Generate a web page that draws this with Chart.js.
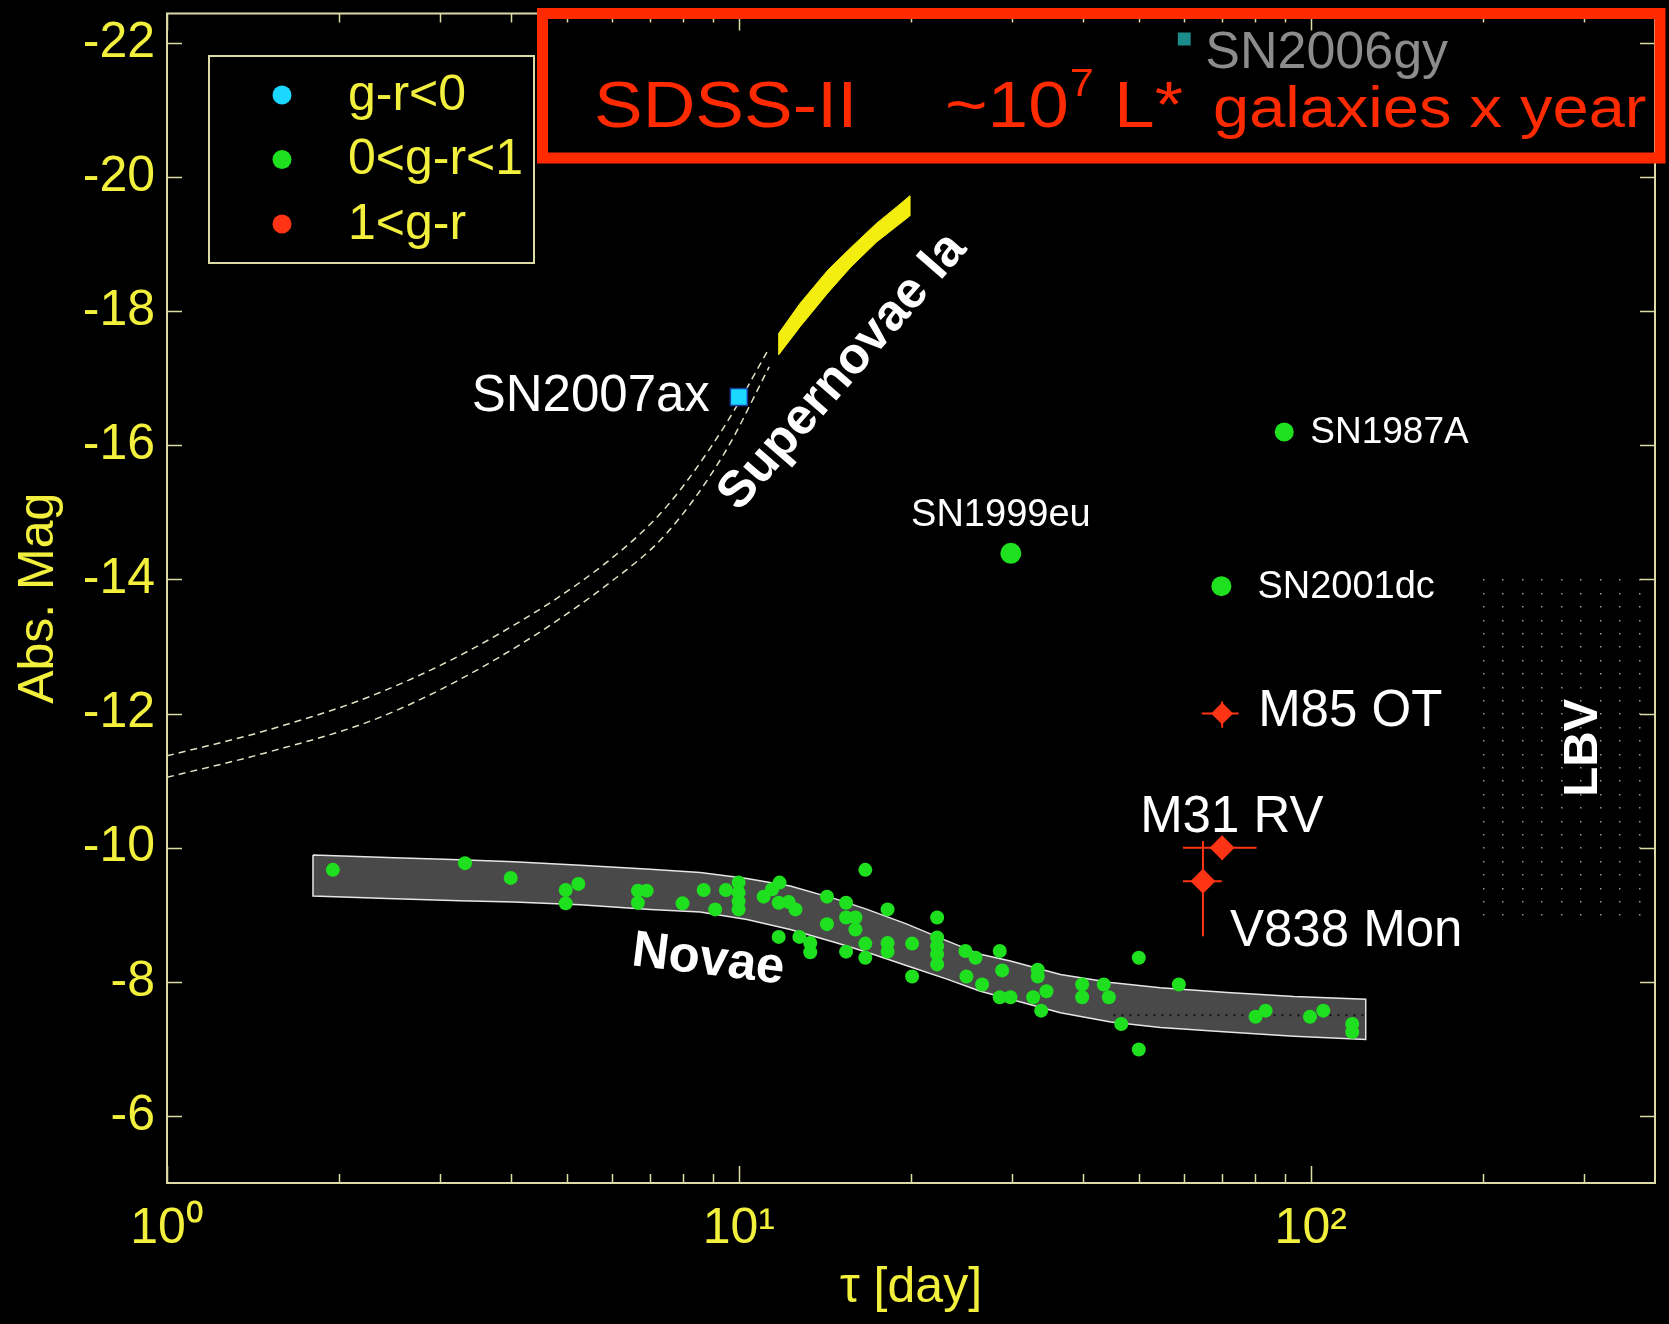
<!DOCTYPE html>
<html>
<head>
<meta charset="utf-8">
<title>Abs. Mag vs decline time</title>
<script src="https://cdn.jsdelivr.net/npm/chart.js@4.4.1/dist/chart.umd.min.js"></script>
<style>
  html, body { margin: 0; padding: 0; background: #000; }
  #wrap { width: 1669px; height: 1324px; }
</style>
</head>
<body>
<div id="wrap"><canvas id="chart" width="1669" height="1324"></canvas></div>
<script>
// Axis ticks
const xTicks = [1, 2, 3, 4, 5, 6, 7, 8, 9, 10, 20, 30, 40, 50, 60, 70, 80, 90, 100, 200, 300];
const xTickLabels = { 1: '10⁰', 10: '10¹', 100: '10²' };
const yTicks = [-22, -20, -18, -16, -14, -12, -10, -8, -6];

const legendLabels = ['g-r<0', '0<g-r<1', '1<g-r'];

// Novae (0<g-r<1)
const novaeTau = [1.95, 3.32, 3.99, 4.98, 5.24, 4.98, 6.66, 6.90, 6.66, 7.97, 8.68, 9.09, 9.49, 9.99, 9.99, 9.99, 9.99,
  11.05, 11.43, 11.78, 11.74, 12.22, 12.56, 14.26, 14.26, 15.40, 15.40, 15.99, 15.99, 16.64, 11.74, 12.76, 13.33, 13.33,
  15.40, 16.64, 16.64, 18.20, 18.20, 18.20, 20.09, 20.09, 22.22, 22.22, 22.22, 22.22, 22.22, 24.90, 25.93, 28.59, 25.00,
  26.63, 28.87, 28.59, 29.85, 32.71, 33.32, 33.32, 34.51, 33.78, 39.84, 39.84, 43.46, 44.36, 46.63, 50.05, 50.05, 58.81,
  80.09, 83.40, 99.7, 105.2, 118.2, 118.2];
const novaeMag = [-9.67, -9.77, -9.55, -9.37, -9.46, -9.17, -9.36, -9.36, -9.18, -9.17, -9.37, -9.08, -9.37, -9.48, -9.33, -9.20, -9.08,
  -9.27, -9.38, -9.48, -9.18, -9.19, -9.08, -9.27, -8.86, -9.18, -8.96, -8.96, -8.78, -9.67, -8.67, -8.67, -8.58, -8.44,
  -8.45, -8.57, -8.36, -9.08, -8.58, -8.45, -8.57, -8.08, -8.96, -8.66, -8.53, -8.41, -8.26, -8.46, -8.36, -8.46, -8.08,
  -7.96, -8.17, -7.77, -7.77, -7.77, -8.18, -8.08, -7.86, -7.57, -7.96, -7.77, -7.96, -7.77, -7.37, -8.36, -6.99, -7.96,
  -7.48, -7.57, -7.48, -7.57, -7.37, -7.25];

// Named supernovae (0<g-r<1)
const snNames = ['SN1987A', 'SN1999eu', 'SN2001dc'];
const snTau = [89.9, 29.9, 69.8];
const snMag = [-16.20, -14.39, -13.90];

// g-r<0
const blueNames = ['SN2007ax', 'SN2006gy'];
const blueTau = [10.0, 60.1];
const blueMag = [-16.72, -22.06];

// 1<g-r, with error bars
const redNames = ['M85 OT', 'M31 RV', 'V838 Mon'];
const redTau = [70.0, 70.0, 64.8];
const redMag = [-12.0, -10.0, -9.5];
const redTauLo = [64.5, 59.8, 59.8];
const redTauHi = [74.8, 80.4, 69.9];
const redMagLo = [-12.18, -10.15, -10.10];
const redMagHi = [-11.79, -9.82, -8.68];

// Novae band edges
const bandTau = [1.80, 2.50, 3.25, 4.04, 5.28, 7.00, 8.56, 10.33, 12.30, 14.85, 16.76, 19.68, 23.12, 26.45, 29.85, 36.5, 44.7, 54.6, 71.5, 93.5, 124.8];
const bandTop = [-9.89, -9.85, -9.82, -9.79, -9.74, -9.68, -9.63, -9.54, -9.43, -9.23, -9.08, -8.86, -8.61, -8.41, -8.31, -8.11, -7.99, -7.91, -7.84, -7.78, -7.74];
const bandBottom = [-9.28, -9.24, -9.21, -9.19, -9.15, -9.08, -9.04, -8.93, -8.78, -8.58, -8.44, -8.24, -8.04, -7.86, -7.74, -7.54, -7.40, -7.32, -7.25, -7.19, -7.14];

// SN Ia band
const snIaTau = [11.74, 12.8, 14.3, 15.7, 17.4, 18.9, 19.9];
const snIaTop = [-17.67, -18.12, -18.61, -18.95, -19.31, -19.56, -19.72];
const snIaBottom = [-17.35, -17.77, -18.27, -18.66, -19.03, -19.27, -19.42];

// dashed extension of the SN Ia band
const extTau = [1.0, 1.48, 2.35, 3.74, 5.94, 7.48, 9.43, 11.3];
const extUpper = [-11.37, -11.74, -12.31, -13.15, -14.29, -15.09, -16.28, -17.45];
const extLower = [-11.05, -11.41, -11.94, -12.80, -13.95, -14.69, -15.88, -17.17];

// dotted line inside the novae band
const dottedTau = [45.2, 124.8];
const dottedMag = [-7.5, -7.5];

// LBV region
const lbvTau = [200, 376];
const lbvMag = [-14, -9];

// ---- styles ----
const FONT = "'Liberation Sans', Arial, Helvetica, sans-serif";
const YELLOW = '#f2f03c';
const FRAME = '#dcdaa6';
const CYAN = '#1ad8ff';
const GREEN = '#1ee01e';
const RED = '#ff3414';

Chart.defaults.font.family = FONT;

const pts = (xs, ys) => xs.map((t, i) => ({ x: t, y: ys[i] }));

function closedPath(xs, upper, lower) {
    const p = pts(xs, upper);
    for (let i = xs.length - 1; i >= 0; i--) p.push({ x: xs[i], y: lower[i] });
    p.push(p[0]);
    return p;
}

// label offsets (pixels) relative to each marker
const labelStyle = {
    'SN2007ax': { dx: -29, dy: 0, align: 'right', size: 51, color: '#ffffff' },
    'SN2006gy': { dx: 21, dy: 15, align: 'left', size: 52, color: '#8c8c8c' },
    'SN1987A': { dx: 26, dy: 1, align: 'left', size: 37, color: '#ffffff' },
    'SN1999eu': { dx: -10, dy: -38, align: 'center', size: 38, color: '#ffffff' },
    'SN2001dc': { dx: 36, dy: 1, align: 'left', size: 38, color: '#ffffff' },
    'M85 OT': { dx: 36, dy: -2, align: 'left', size: 51, color: '#ffffff' },
    'M31 RV': { dx: -82, dy: -30, align: 'left', size: 51, color: '#ffffff' },
    'V838 Mon': { dx: 27, dy: 51, align: 'left', size: 51, color: '#ffffff' }
};

const annotations = [
    { text: 'Supernovae Ia', tau: 15.2, mag: -17.1, rot: -49, size: 51 },
    { text: 'Novae', tau: 8.84, mag: -8.32, rot: 7, size: 51 },
    { text: 'LBV', tau: 300, mag: -11.49, rot: -90, size: 49 }
];

// frame with inward ticks on all four sides
const frameTicks = {
    id: 'frameTicks',
    afterDatasetsDraw(chart) {
        const { ctx, chartArea: a, scales: { x, y } } = chart;
        ctx.save();
        ctx.strokeStyle = FRAME;
        ctx.lineWidth = 2;
        ctx.strokeRect(a.left, a.top, a.right - a.left, a.bottom - a.top);
        ctx.lineWidth = 1.5;
        ctx.beginPath();
        xTicks.forEach(v => {
            const px = Math.round(x.getPixelForValue(v)) + 0.5;
            const len = xTickLabels[v] ? 17 : 9;
            ctx.moveTo(px, a.bottom); ctx.lineTo(px, a.bottom - len);
            ctx.moveTo(px, a.top); ctx.lineTo(px, a.top + len);
        });
        yTicks.forEach(v => {
            const py = Math.round(y.getPixelForValue(v)) + 0.5;
            ctx.moveTo(a.left, py); ctx.lineTo(a.left + 15, py);
            ctx.moveTo(a.right, py); ctx.lineTo(a.right - 15, py);
        });
        ctx.stroke();
        ctx.restore();
    }
};

// LBV dot field and error bars, under the markers
const underlays = {
    id: 'underlays',
    beforeDatasetsDraw(chart) {
        const { ctx, scales: { x, y } } = chart;
        ctx.save();
        ctx.fillStyle = '#9a9a9a';
        const x0 = x.getPixelForValue(lbvTau[0]), x1 = x.getPixelForValue(lbvTau[1]);
        const y0 = y.getPixelForValue(lbvMag[0]), y1 = y.getPixelForValue(lbvMag[1]);
        for (let px = x0; px <= x1 + 0.5; px += 19.5) {
            for (let py = y0; py <= y1 + 0.5; py += 13.4) {
                ctx.fillRect(Math.round(px), Math.round(py), 1.5, 1.5);
            }
        }
        ctx.strokeStyle = RED;
        ctx.lineWidth = 2;
        ctx.beginPath();
        redTau.forEach((t, i) => {
            const px = x.getPixelForValue(t), py = y.getPixelForValue(redMag[i]);
            ctx.moveTo(x.getPixelForValue(redTauLo[i]), py);
            ctx.lineTo(x.getPixelForValue(redTauHi[i]), py);
            ctx.moveTo(px, y.getPixelForValue(redMagLo[i]));
            ctx.lineTo(px, y.getPixelForValue(redMagHi[i]));
        });
        ctx.stroke();
        ctx.restore();
    }
};

// text labels next to markers and the region annotations
const labels = {
    id: 'labels',
    afterDatasetsDraw(chart) {
        const { ctx, scales: { x, y } } = chart;
        ctx.save();
        ctx.textBaseline = 'middle';
        const put = (name, t, m) => {
            const s = labelStyle[name];
            ctx.font = s.size + 'px ' + FONT;
            ctx.fillStyle = s.color;
            ctx.textAlign = s.align;
            ctx.fillText(name, x.getPixelForValue(t) + s.dx, y.getPixelForValue(m) + s.dy);
        };
        blueNames.forEach((n, i) => put(n, blueTau[i], blueMag[i]));
        snNames.forEach((n, i) => put(n, snTau[i], snMag[i]));
        redNames.forEach((n, i) => put(n, redTau[i], redMag[i]));

        ctx.fillStyle = '#ffffff';
        ctx.textAlign = 'center';
        annotations.forEach(a => {
            ctx.save();
            ctx.translate(x.getPixelForValue(a.tau), y.getPixelForValue(a.mag));
            ctx.rotate(a.rot * Math.PI / 180);
            ctx.font = 'bold ' + a.size + 'px ' + FONT;
            ctx.fillText(a.text, 0, 0);
            ctx.restore();
        });
        ctx.restore();
    }
};

// legend box inside the plot
const legendBox = {
    id: 'legendBox',
    afterDraw(chart) {
        const { ctx } = chart;
        const colors = [CYAN, GREEN, RED];
        ctx.save();
        ctx.strokeStyle = FRAME;
        ctx.lineWidth = 2;
        ctx.strokeRect(209, 56, 325, 207);
        ctx.font = '50px ' + FONT;
        ctx.textBaseline = 'middle';
        ctx.textAlign = 'left';
        legendLabels.forEach((txt, i) => {
            const cy = 95 + i * 64.5;
            ctx.fillStyle = colors[i];
            ctx.beginPath();
            ctx.arc(282, cy, 9.5, 0, Math.PI * 2);
            ctx.fill();
            ctx.fillStyle = YELLOW;
            ctx.fillText(txt, 348, cy + 1);
        });
        ctx.restore();
    }
};

// red survey box at the top
function stretched(ctx, text, x, y, size, sx) {
    ctx.save();
    ctx.font = size + 'px ' + FONT;
    ctx.translate(x, y);
    ctx.scale(sx, 1);
    ctx.fillText(text, 0, 0);
    const w = ctx.measureText(text).width * sx;
    ctx.restore();
    return w;
}

const surveyBox = {
    id: 'surveyBox',
    afterDraw(chart) {
        const { ctx } = chart;
        ctx.save();
        ctx.strokeStyle = '#ff2a00';
        ctx.lineWidth = 11;
        ctx.strokeRect(542.5, 13.5, 1117.5, 144.5);
        ctx.fillStyle = '#ff2a00';
        ctx.textBaseline = 'alphabetic';
        ctx.textAlign = 'left';
        const sx = 1.14;
        stretched(ctx, 'SDSS-II', 594, 127, 64, sx);
        let cx = 945;
        cx += stretched(ctx, '~10', cx, 127, 64, sx);
        cx += stretched(ctx, '7', cx + 1, 96, 38, sx) + 1;
        stretched(ctx, ' L*', cx, 127, 64, sx);
        stretched(ctx, 'galaxies x year', 1213, 127, 57, sx);
        ctx.restore();
    }
};

const ctx = document.getElementById('chart').getContext('2d');

new Chart(ctx, {
    type: 'scatter',
    data: {
        datasets: [
            {
                label: 'g-r<0',
                data: pts(blueTau, blueMag),
                pointStyle: 'rect',
                pointRadius: [12, 8],
                backgroundColor: [CYAN, '#1b8c8c'],
                borderColor: ['#1a3aa0', '#1b8c8c'],
                borderWidth: 1.5,
                order: 1
            },
            {
                label: '1<g-r',
                data: pts(redTau, redMag),
                pointStyle: 'rectRot',
                pointRadius: [11, 12.5, 12.5],
                backgroundColor: RED,
                borderColor: RED,
                borderWidth: 0,
                order: 1
            },
            {
                label: '0<g-r<1',
                data: pts(snTau, snMag),
                pointStyle: 'circle',
                pointRadius: [9.5, 10.5, 10],
                backgroundColor: GREEN,
                borderWidth: 0,
                order: 2
            },
            {
                label: 'novae',
                data: pts(novaeTau, novaeMag),
                pointStyle: 'circle',
                pointRadius: 7,
                backgroundColor: GREEN,
                borderWidth: 0,
                order: 2
            },
            {
                type: 'line',
                label: 'dotted',
                data: pts(dottedTau, dottedMag),
                borderColor: '#111111',
                borderWidth: 2,
                borderDash: [2, 6],
                pointRadius: 0,
                fill: false,
                order: 3
            },
            {
                type: 'line',
                label: 'novae band',
                data: closedPath(bandTau, bandTop, bandBottom),
                borderColor: '#e6e6e6',
                borderWidth: 1.5,
                backgroundColor: '#494949',
                fill: 'shape',
                pointRadius: 0,
                tension: 0,
                order: 6
            },
            {
                type: 'line',
                label: 'SN Ia band',
                data: closedPath(snIaTau, snIaTop, snIaBottom),
                borderColor: '#f4ee10',
                borderWidth: 1,
                backgroundColor: '#f4ee10',
                fill: 'shape',
                pointRadius: 0,
                tension: 0,
                order: 6
            },
            {
                type: 'line',
                label: 'ext upper',
                data: pts(extTau, extUpper),
                borderColor: '#e4e2c4',
                borderWidth: 1.5,
                borderDash: [7, 5],
                pointRadius: 0,
                cubicInterpolationMode: 'monotone',
                fill: false,
                order: 7
            },
            {
                type: 'line',
                label: 'ext lower',
                data: pts(extTau, extLower),
                borderColor: '#e4e2c4',
                borderWidth: 1.5,
                borderDash: [7, 5],
                pointRadius: 0,
                cubicInterpolationMode: 'monotone',
                fill: false,
                order: 7
            }
        ]
    },
    options: {
        responsive: false,
        animation: false,
        devicePixelRatio: 1,
        layout: { padding: { top: 13, right: 14, left: 0, bottom: 0 } },
        plugins: {
            legend: { display: false },
            tooltip: { enabled: false }
        },
        scales: {
            x: {
                type: 'logarithmic',
                position: 'bottom',
                min: 1,
                max: 400,
                grid: { display: false, drawTicks: false },
                border: { display: false },
                afterBuildTicks: s => { s.ticks = xTicks.map(v => ({ value: v })); },
                afterFit: s => { s.height = 141; s.paddingLeft = 0; s.paddingRight = 0; },
                ticks: {
                    autoSkip: false,
                    maxRotation: 0,
                    padding: 16,
                    color: YELLOW,
                    font: { size: 50 },
                    callback: v => xTickLabels[v] || ''
                },
                title: {
                    display: true,
                    text: 'τ [day]',
                    color: YELLOW,
                    font: { size: 50 },
                    padding: { top: 0, bottom: 6 }
                }
            },
            y: {
                type: 'linear',
                min: -22.44,
                max: -5,
                reverse: true,
                grid: { display: false, drawTicks: false },
                border: { display: false },
                afterBuildTicks: s => { s.ticks = yTicks.map(v => ({ value: v })); },
                afterFit: s => { s.width = 167; s.paddingTop = 0; s.paddingBottom = 0; },
                ticks: {
                    padding: 12,
                    color: YELLOW,
                    font: { size: 50 },
                    callback: v => String(v)
                },
                title: {
                    display: true,
                    text: 'Abs. Mag',
                    color: YELLOW,
                    font: { size: 50 },
                    padding: { top: 9, bottom: 0 }
                }
            }
        }
    },
    plugins: [underlays, frameTicks, labels, legendBox, surveyBox]
});
</script>
</body>
</html>
